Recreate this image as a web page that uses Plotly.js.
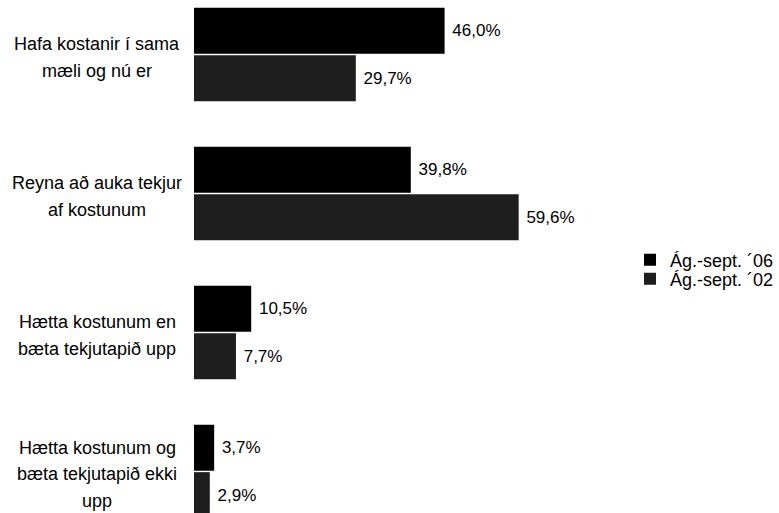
<!DOCTYPE html>
<html>
<head>
<meta charset="utf-8">
<script src="https://cdn.plot.ly/plotly-3.0.1.min.js"></script>
<style>html,body{margin:0;padding:0;background:#fff;}#chart{width:779px;height:513px;}</style>
</head>
<body>
<div id="chart"></div>
<script>
var categories = ["Hafa kostanir í sama mæli og nú er", "Reyna að auka tekjur af kostunum", "Hætta kostunum en bæta tekjutapið upp", "Hætta kostunum og bæta tekjutapið ekki upp"];
var categoryLines = [
  ["Hafa kostanir í sama", "mæli og nú er"],
  ["Reyna að auka tekjur", "af kostunum"],
  ["Hætta kostunum en", "bæta tekjutapið upp"],
  ["Hætta kostunum og", "bæta tekjutapið ekki", "upp"]
];
var seriesNames = ["Ág.-sept. ´06", "Ág.-sept. ´02"];
var values06 = [46.0, 39.8, 10.5, 3.7];
var values02 = [29.7, 59.6, 7.7, 2.9];

function fmt(v){ return " " + v.toFixed(1).replace(".", ",") + "%"; }

var FONT = "Liberation Sans, Arial, sans-serif";

var traces = [
  {type:"bar", orientation:"h", name:seriesNames[0], y:categories, x:values06,
   marker:{color:"#000000"}, text:values06.map(fmt), textposition:"outside",
   textfont:{family:FONT, size:17, color:"#000"}, cliponaxis:false, hoverinfo:"none",
   legend:"legend"},
  {type:"bar", orientation:"h", name:seriesNames[1], y:categories, x:values02,
   marker:{color:"#1e1e1e"}, text:values02.map(fmt), textposition:"outside",
   textfont:{family:FONT, size:17, color:"#000"}, cliponaxis:false, hoverinfo:"none",
   legend:"legend2"}
];

var annotations = [];
categoryLines.forEach(function(lines, ci){
  var n = lines.length;
  lines.forEach(function(line, li){
    annotations.push({
      xref:"paper", yref:"y", x:-0.166, y:categories[ci],
      xanchor:"center", yanchor:"middle", showarrow:false,
      text:line, font:{family:FONT, size:18, color:"#000"},
      yshift:((n-1)/2 - li)*26.5 - 3
    });
  });
});

var legFont = {family:FONT, size:18, color:"#000"};
var layout = {
  width:779, height:513,
  margin:{l:194, r:0, t:0, b:0},
  paper_bgcolor:"#fff", plot_bgcolor:"#fff",
  barmode:"group", bargap:0.317, bargroupgap:0.03,
  xaxis:{range:[0,107.2], visible:false, fixedrange:true},
  yaxis:{type:"category", range:[3.299,-0.392], showticklabels:false, showgrid:false, zeroline:false, showline:false, ticks:""},
  showlegend:true,
  legend:{x:0.747, xanchor:"left", y:1-260/513, yanchor:"middle",
          font:legFont, bgcolor:"rgba(0,0,0,0)", itemwidth:30},
  legend2:{x:0.747, xanchor:"left", y:1-279/513, yanchor:"middle",
          font:legFont, bgcolor:"rgba(0,0,0,0)", itemwidth:30},
  annotations:annotations,
  font:{family:FONT, color:"#000"}
};

Plotly.newPlot("chart", traces, layout, {displayModeBar:false, staticPlot:true});
</script>
</body>
</html>
